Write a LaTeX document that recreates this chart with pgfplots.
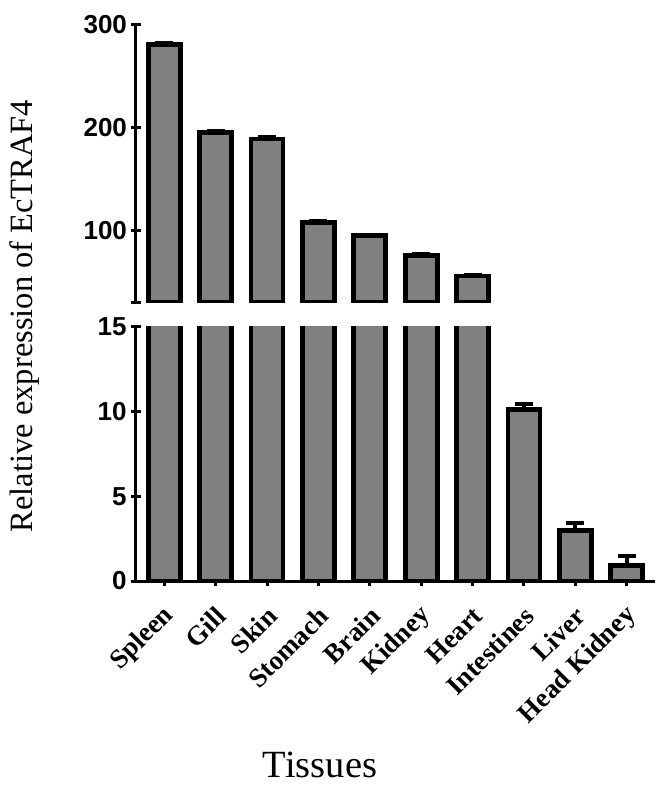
\documentclass[border=0pt]{standalone}
\usepackage{fontspec}
\setmainfont{Liberation Serif}
\newfontfamily\arialfont{Liberation Sans}
\usepackage{pgfplots}
\pgfplotsset{compat=1.18}

\definecolor{barfill}{HTML}{808080}

% 1 px of the reference = 1 pt here
\pgfplotsset{
  brk/.style={
    scale only axis, width=519pt,
    xmin=-0.55, xmax=9.55,
    ybar, bar width=32pt,
    tick align=outside,
    major tick length=9pt,
    tick style={line width=3pt, black},
    yticklabel style={font=\arialfont\bfseries\fontsize{26}{30}\selectfont, xshift=-1pt},
    /pgf/number format/assume math mode=true,
  },
  barsty/.style={draw=black, fill=barfill, line width=4.8pt,
    error bars/.cd, y dir=plus, y explicit,
    error bar style={line width=4pt, black},
    error mark options={rotate=90, mark size=9pt, line width=4pt, black}},
}

\begin{document}
\begin{tikzpicture}
\useasboundingbox (-136pt,-213pt) rectangle (532pt,581pt);

% upper panel (30 to 300)
\begin{axis}[brk, at={(0pt,278.3pt)}, height=278pt,
  ymin=30, ymax=300, axis x line=none, axis y line=left,
  axis line style={line width=3pt, -},
  ytick={30,100,200,300}, yticklabels={,100,200,300}]
\addplot[barsty] coordinates {
  (0,281) +- (0,1.5)
  (1,195) +- (0,1.5)
  (2,189) +- (0,1.5)
  (3,108) +- (0,1.0)
  (4,95)  +- (0,1.0)
  (5,76)  +- (0,1.0)
  (6,56)  +- (0,1.0)
};
\end{axis}

% lower panel (0 to 15)
\begin{axis}[brk, at={(0pt,0pt)}, height=254.3pt,
  ymin=0, ymax=15, axis x line=bottom, axis y line=left,
  axis line style={line width=3pt, -},
  ytick={0,5,10,15},
  xtick={0,...,9},
  major tick length=10pt,
  xticklabels={Spleen,Gill,Skin,Stomach,Brain,Kidney,Heart,Intestines,Liver,Head Kidney},
  x tick label style={rotate=45, anchor=east, font=\bfseries\fontsize{27}{30}\selectfont,
    xshift=-11pt, yshift=-22pt}]
\addplot[barsty] coordinates {
  (0,281) +- (0,1.5)
  (1,195) +- (0,1.5)
  (2,189) +- (0,1.5)
  (3,108) +- (0,1.0)
  (4,95)  +- (0,1.0)
  (5,76)  +- (0,1.0)
  (6,56)  +- (0,1.0)
  (7,10.1) +- (0,0.35)
  (8,3.0) +- (0,0.4)
  (9,0.9) +- (0,0.6)
};
\end{axis}

\node[rotate=90, font=\fontsize{32.5}{36}\selectfont] at (-111pt,265pt) {Relative expression of EcTRAF4};
\node[font=\fontsize{38.5}{42}\selectfont] at (184pt,-184pt) {Tissues};
\end{tikzpicture}
\end{document}
